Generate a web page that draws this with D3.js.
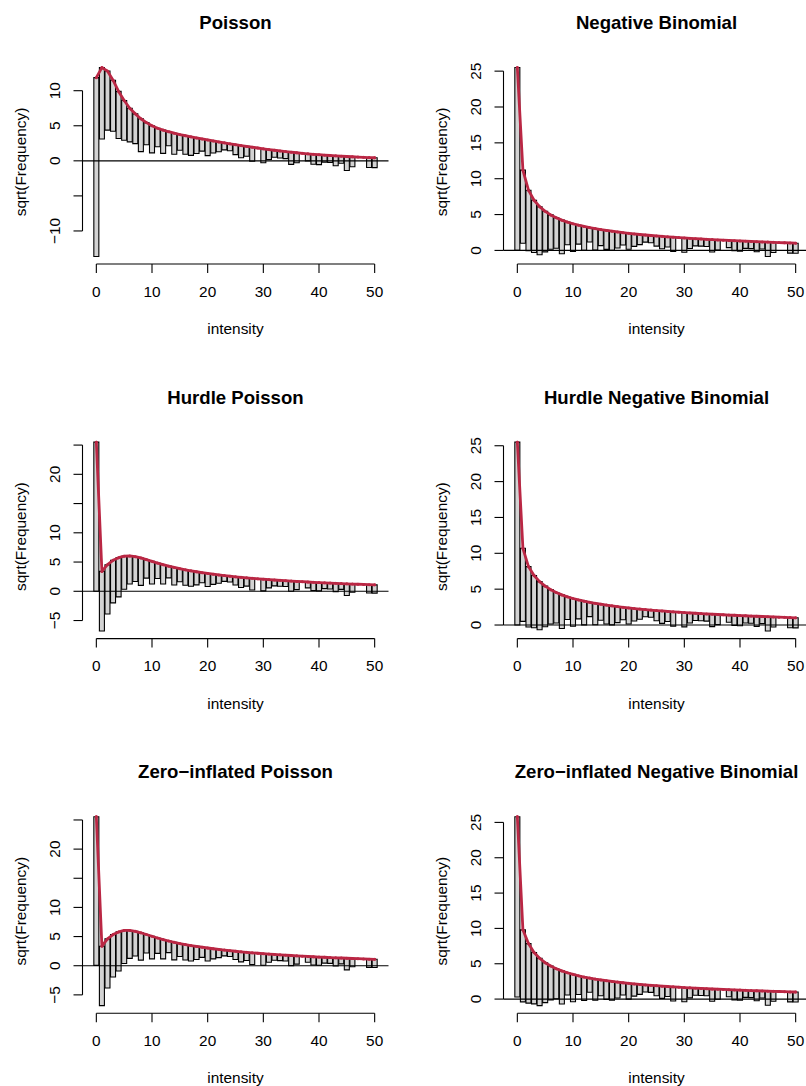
<!DOCTYPE html>
<html><head><meta charset="utf-8">
<script src="https://cdn.jsdelivr.net/npm/d3@7"></script>
<style>
body{margin:0;background:#fff}
svg text{font-family:"Liberation Sans",Arial,Helvetica,sans-serif;fill:#000}
</style>
</head><body>
<svg id="chart" width="806" height="1086"></svg>
<script>
// ---------- data ----------
const intensity = [0,1,2,3,4,5,6,7,8,9,10,11,12,13,14,15,16,17,18,19,20,21,22,23,24,25,26,27,28,29,30,31,32,33,34,35,36,37,38,39,40,41,42,43,44,45,46,47,48,49,50];
const observedFreq = [650,104,71,53,45,32,23,18,22,10,15,7,11,4,9,5,7,7,5,3,5,3,2,1,1,2,3,2,4,0,4,2,1,1,1,3,2,0,1,2,2,1,1,2,1,4,2,0,0,2,2];

const modelTitles = ["Poisson","Negative Binomial","Hurdle Poisson","Hurdle Negative Binomial","Zero\u2212inflated Poisson","Zero\u2212inflated Negative Binomial"];

const sqrtExpPoisson = [11.86,13.3,12.8,11.5,9.9,8.6,7.5,6.7,6.0,5.45,5.0,4.65,4.38,4.15,3.94,3.75,3.58,3.42,3.27,3.12,2.98,2.84,2.7,2.56,2.43,2.3,2.18,2.06,1.94,1.83,1.72,1.61,1.51,1.41,1.32,1.23,1.15,1.07,1.0,0.93,0.87,0.81,0.76,0.71,0.66,0.62,0.58,0.54,0.5,0.47,0.44];
const sqrtExpNegBin = [25.5,11.2,8.4,7.0,6.1,5.45,4.95,4.55,4.22,3.95,3.72,3.52,3.34,3.18,3.04,2.91,2.79,2.68,2.58,2.48,2.39,2.3,2.22,2.15,2.08,2.02,1.96,1.9,1.84,1.79,1.74,1.69,1.64,1.6,1.55,1.51,1.47,1.43,1.39,1.36,1.32,1.29,1.25,1.22,1.19,1.16,1.13,1.1,1.07,1.04,1.01];
const sqrtExpHurdlePoisson = [25.5,3.4,4.55,5.3,5.75,6.0,6.05,5.92,5.7,5.42,5.12,4.83,4.55,4.3,4.07,3.86,3.67,3.5,3.34,3.19,3.05,2.92,2.8,2.69,2.58,2.48,2.39,2.3,2.22,2.14,2.07,2.0,1.93,1.87,1.81,1.75,1.69,1.64,1.59,1.54,1.49,1.45,1.4,1.36,1.32,1.28,1.24,1.2,1.17,1.13,1.1];
const sqrtExpHurdleNegBin = [25.5,10.7,8.15,6.9,6.05,5.42,4.93,4.53,4.2,3.93,3.7,3.5,3.33,3.17,3.03,2.9,2.78,2.67,2.57,2.47,2.38,2.3,2.22,2.15,2.08,2.02,1.96,1.9,1.84,1.79,1.74,1.69,1.64,1.6,1.55,1.51,1.47,1.43,1.39,1.36,1.32,1.29,1.25,1.22,1.19,1.16,1.13,1.1,1.07,1.04,1.01];
const sqrtExpZIPoisson = [25.55,3.35,4.6,5.35,5.8,6.05,6.05,5.9,5.65,5.35,5.05,4.76,4.49,4.24,4.01,3.81,3.63,3.46,3.31,3.17,3.04,2.91,2.8,2.69,2.58,2.48,2.39,2.3,2.22,2.14,2.07,2.0,1.93,1.87,1.81,1.75,1.69,1.64,1.59,1.54,1.49,1.45,1.4,1.36,1.32,1.28,1.24,1.2,1.17,1.13,1.1];
const sqrtExpZINegBin = [25.8,9.8,7.85,6.6,5.78,5.15,4.68,4.3,3.99,3.73,3.5,3.3,3.12,2.97,2.83,2.71,2.6,2.5,2.4,2.31,2.23,2.15,2.08,2.01,1.95,1.89,1.83,1.78,1.73,1.68,1.63,1.59,1.55,1.51,1.47,1.43,1.4,1.36,1.33,1.3,1.27,1.24,1.21,1.18,1.15,1.12,1.1,1.07,1.05,1.02,1.0];

const xTicks = [0,10,20,30,40,50];
const yTicksPoisson = [-10,-5,0,5,10];
const yTickLabelsPoisson = ["\u221210","","0","5","10"];
const yTicksHurdle = [-5,0,5,10,15,20,25];
const yTickLabelsHurdle = ["\u22125","0","5","10","","20",""];
const yTicksNB = [0,5,10,15,20,25];
const yTickLabelsNB = ["0","5","10","15","20","25"];

const xLabel = "intensity";
const yLabel = "sqrt(Frequency)";

// ---------- layout ----------
const colLeft = [82.5, 503.5];
const rowTop = [60, 434.6, 809.2];
const regionW = 306, regionH = 204;
const barHalf = 0.45;
const lineCol = "#BA2744";
const axisFont = "15.4px", titleFont = "18.6px";

const panels = [
  {title: modelTitles[0], exp: sqrtExpPoisson, yt: yTicksPoisson, yl: yTickLabelsPoisson},
  {title: modelTitles[1], exp: sqrtExpNegBin, yt: yTicksNB, yl: yTickLabelsNB},
  {title: modelTitles[2], exp: sqrtExpHurdlePoisson, yt: yTicksHurdle, yl: yTickLabelsHurdle},
  {title: modelTitles[3], exp: sqrtExpHurdleNegBin, yt: yTicksNB, yl: yTickLabelsNB},
  {title: modelTitles[4], exp: sqrtExpZIPoisson, yt: yTicksHurdle, yl: yTickLabelsHurdle},
  {title: modelTitles[5], exp: sqrtExpZINegBin, yt: yTicksNB, yl: yTickLabelsNB}
];

const svg = d3.select("#chart");
svg.append("rect").attr("width",806).attr("height",1086).attr("fill","#fff");

panels.forEach((p, k) => {
  const left = colLeft[k % 2], top = rowTop[Math.floor(k / 2)];
  const right = left + regionW, bottom = top + regionH;
  const rows = intensity.map((v, i) => ({x: v, top: p.exp[i], bot: p.exp[i] - Math.sqrt(observedFreq[i])}));

  const xr = [intensity[0] - barHalf, intensity[intensity.length - 1] + barHalf];
  const xpad = 0.04 * (xr[1] - xr[0]);
  const x = d3.scaleLinear().domain([xr[0] - xpad, xr[1] + xpad]).range([left, right]);

  const lo = d3.min(rows, d => Math.min(d.bot, d.top));
  const hi = d3.max(rows, d => Math.max(d.bot, d.top));
  const ypad = 0.04 * (hi - lo);
  const y = d3.scaleLinear().domain([lo - ypad, hi + ypad]).range([bottom, top]);

  const g = svg.append("g");

  // hanging bars
  g.selectAll("path.bar").data(rows).enter().append("path")
    .attr("class","bar")
    .attr("d", d => {
      const x0 = x(d.x - barHalf), x1 = x(d.x + barHalf);
      const y0 = y(d.top), y1 = y(d.bot);
      return `M${x0},${y0}H${x1}V${y1}H${x0}Z`;
    })
    .attr("fill","#D3D3D3").attr("stroke","#000").attr("stroke-width",1.1);

  // reference line at 0
  g.append("line").attr("x1", left).attr("x2", right)
    .attr("y1", y(0)).attr("y2", y(0)).attr("stroke","#000").attr("stroke-width",1.1);

  // expected curve
  const line = d3.line().x(d => x(d.x)).y(d => y(d.top));
  g.append("path").datum(rows).attr("d", line)
    .attr("fill","none").attr("stroke", lineCol).attr("stroke-width",2.8)
    .attr("stroke-linejoin","round").attr("stroke-linecap","round");
  g.selectAll("circle.pt").data(rows).enter().append("circle")
    .attr("cx", d => x(d.x)).attr("cy", d => y(d.top)).attr("r", 1.5)
    .attr("fill", lineCol);

  // x axis (R style)
  const ax = svg.append("g");
  ax.append("line").attr("x1", x(xTicks[0])).attr("x2", x(xTicks[xTicks.length-1]))
    .attr("y1", bottom).attr("y2", bottom).attr("stroke","#000").attr("stroke-width",1.1);
  xTicks.forEach(t => {
    ax.append("line").attr("x1", x(t)).attr("x2", x(t)).attr("y1", bottom).attr("y2", bottom + 9)
      .attr("stroke","#000").attr("stroke-width",1.1);
    ax.append("text").attr("x", x(t)).attr("y", bottom + 32.5).attr("text-anchor","middle")
      .attr("font-size", axisFont).text(t);
  });
  // y axis
  ax.append("line").attr("x1", left).attr("x2", left)
    .attr("y1", y(p.yt[0])).attr("y2", y(p.yt[p.yt.length-1])).attr("stroke","#000").attr("stroke-width",1.1);
  p.yt.forEach((t, i) => {
    ax.append("line").attr("x1", left - 9).attr("x2", left).attr("y1", y(t)).attr("y2", y(t))
      .attr("stroke","#000").attr("stroke-width",1.1);
    if (p.yl[i] !== "") {
      ax.append("text").attr("transform", `translate(${left - 22.5},${y(t)}) rotate(-90)`)
        .attr("text-anchor","middle").attr("font-size", axisFont).text(p.yl[i]);
    }
  });

  // labels
  svg.append("text").attr("x", (left + right) / 2).attr("y", bottom + 70)
    .attr("text-anchor","middle").attr("font-size", axisFont).text(xLabel);
  svg.append("text").attr("transform", `translate(${left - 57},${(top + bottom) / 2}) rotate(-90)`)
    .attr("text-anchor","middle").attr("font-size", axisFont).text(yLabel);
  svg.append("text").attr("x", (left + right) / 2).attr("y", top - 31)
    .attr("text-anchor","middle").attr("font-size", titleFont).attr("font-weight","bold").text(p.title);
});
</script>
</body></html>
